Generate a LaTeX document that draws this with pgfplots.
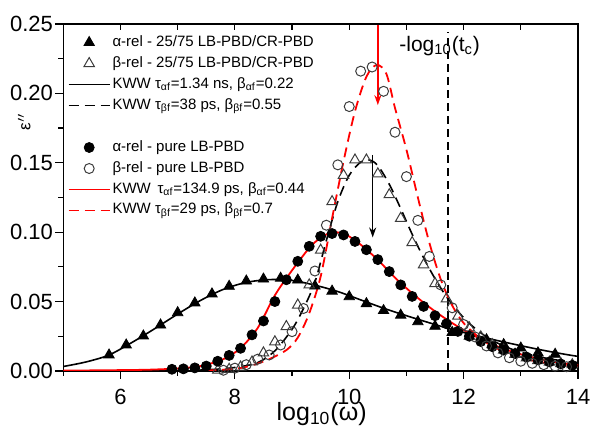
\documentclass[border=0pt]{standalone}
\usepackage{pgfplots}
\pgfplotsset{compat=1.18}
\usepackage{fontspec}
\setmainfont{Liberation Sans}
\usetikzlibrary{arrows.meta}
\definecolor{mkgray}{HTML}{3C3C3C}

\begin{document}
\begin{tikzpicture}
\begin{axis}[
  name=ax,
  scale only axis, width=257.4pt, height=173.5pt,
  xmin=5, xmax=14, ymin=0, ymax=0.25,
  xtick={6,8,10,12,14}, minor xtick={5,7,9,11,13},
  ytick={0,0.05,0.1,0.15,0.2,0.25},
  minor ytick={0.025,0.075,0.125,0.175,0.225},
  xtick pos=bottom, ytick pos=left,
  tick align=outside,
  major tick length=4pt, minor tick length=2.5pt,
  tick style={black, line width=0.6pt},
  axis line style={line width=0.7pt},
  /pgf/number format/assume math mode=true,
  ticklabel style={font=\fontsize{11}{13}\selectfont},
  yticklabel style={inner xsep=1pt, /pgf/number format/.cd, fixed, fixed zerofill, precision=2},
  xticklabel style={anchor=base, inner sep=0pt, yshift=-13pt},
  legend image code/.code={\draw[mark repeat=2,mark phase=2,#1] plot coordinates {(0cm,0cm) (0.36cm,0cm) (0.72cm,0cm)};},
  legend cell align=left,
  legend style={at={(0.008,0.978)}, anchor=north west, draw=none, fill=none,
    font=\fontsize{7.5}{9}\selectfont, inner sep=0pt, row sep=0pt,
    nodes={inner sep=1pt, text height=6pt, text depth=2.5pt}},
]
% alpha 25/75
\addplot[only marks, mark=triangle*, mark size=3pt, mark options={fill=black, draw=black}] coordinates {
(5.8,0.0115)(6.1,0.0187)(6.4,0.0252)(6.7,0.0331)(7.0,0.042)(7.3,0.049)(7.6,0.0555)(7.9,0.061)
(8.2,0.0648)(8.5,0.0662)(8.8,0.0668)(9.1,0.0655)(9.4,0.0612)(9.7,0.0575)(10.0,0.0535)(10.3,0.0485)
(10.6,0.0435)(10.9,0.0402)(11.2,0.0355)(11.5,0.0322)(11.8,0.0278)(12.1,0.025)(12.4,0.0225)
(12.7,0.019)(13.0,0.0165)(13.3,0.013)(13.6,0.012)};
\addlegendentry{α-rel - 25/75 LB-PBD/CR-PBD}
% beta 25/75
\addplot[only marks, mark=triangle, mark size=3pt, mark options={draw=mkgray, line width=0.5pt}] coordinates {
(7.7,0.0005)(7.9,0.0012)(8.1,0.0028)(8.3,0.0065)(8.5,0.013)(8.7,0.021)(8.9,0.032)(9.1,0.0475)
(9.3,0.062)(9.5,0.087)(9.7,0.122)(9.9,0.141)(10.1,0.152)(10.3,0.152)(10.5,0.142)(10.7,0.127)
(10.9,0.11)(11.1,0.0925)(11.3,0.0765)(11.5,0.063)(11.7,0.052)(11.9,0.0395)(12.1,0.031)
(12.3,0.0245)(12.5,0.019)(12.7,0.015)(12.9,0.012)(13.1,0.0095)(13.3,0.0075)(13.5,0.0063)
(13.7,0.0053)(13.9,0.0045)};
\addlegendentry{β-rel - 25/75 LB-PBD/CR-PBD}
% KWW alpha 25/75
\addplot[black, line width=0.8pt, smooth] coordinates {
(5.0,0.0032)(5.4,0.0065)(5.8,0.0115)(6.2,0.0205)(6.6,0.0305)(7.0,0.041)(7.4,0.0508)(7.8,0.0588)
(8.2,0.0638)(8.6,0.0658)(9.0,0.0652)(9.4,0.0618)(9.8,0.0572)(10.2,0.0512)(10.6,0.0452)(11.0,0.0398)
(11.4,0.0347)(11.8,0.0298)(12.2,0.0257)(12.6,0.0218)(13.0,0.0182)(13.4,0.0148)(13.8,0.0118)(14.0,0.0105)};
\addlegendentry{KWW τ\textsubscript{αf}=1.34 ns, β\textsubscript{αf}=0.22}
% KWW beta 25/75
\addplot[black, line width=0.8pt, dash pattern=on 5pt off 3pt, smooth] coordinates {
(7.0,0.0003)(7.5,0.0008)(8.0,0.0025)(8.4,0.006)(8.7,0.0145)(9.0,0.03)(9.2,0.045)(9.4,0.064)
(9.6,0.094)(9.8,0.122)(10.0,0.141)(10.2,0.1505)(10.35,0.152)(10.5,0.148)(10.7,0.1345)(10.9,0.117)
(11.1,0.0985)(11.3,0.0815)(11.5,0.0665)(11.7,0.0535)(11.9,0.043)(12.1,0.0342)(12.4,0.0245)(12.7,0.018)
(13.0,0.0135)(13.4,0.0095)(13.8,0.0068)(14.0,0.006)};
\addlegendentry{KWW τ\textsubscript{βf}=38 ps, β\textsubscript{βf}=0.55}
\addlegendimage{empty legend}
\addlegendentry{}
% alpha pure
\addplot[only marks, mark=*, mark size=2.5pt, mark options={fill=black, draw=black}] coordinates {
(6.9,0.0012)(7.1,0.0015)(7.3,0.0022)(7.5,0.0035)(7.7,0.007)(7.9,0.0112)(8.1,0.0163)(8.3,0.026)
(8.5,0.036)(8.7,0.050)(8.9,0.0657)(9.1,0.079)(9.3,0.0898)(9.5,0.097)(9.7,0.099)(9.9,0.098)
(10.1,0.0933)(10.3,0.0873)(10.5,0.0802)(10.7,0.0716)(10.9,0.062)(11.1,0.0537)(11.3,0.0465)
(11.5,0.0398)(11.7,0.034)(11.9,0.0285)(12.1,0.025)(12.3,0.0212)(12.5,0.0175)(12.7,0.015)
(12.9,0.0125)(13.1,0.010)(13.3,0.008)(13.5,0.0065)(13.7,0.005)(13.9,0.004)};
\addlegendentry{α-rel - pure LB-PBD}
% beta pure
\addplot[only marks, mark=o, mark size=2.5pt, mark options={draw=mkgray, line width=0.5pt}] coordinates {
(7.8,0.0005)(8.0,0.002)(8.2,0.0045)(8.4,0.0085)(8.6,0.0115)(8.8,0.0187)(9.0,0.0283)(9.2,0.045)
(9.4,0.072)(9.6,0.105)(9.8,0.1485)(10.0,0.1905)(10.2,0.216)(10.4,0.219)(10.6,0.2015)(10.8,0.172)
(11.0,0.14)(11.2,0.1085)(11.4,0.0825)(11.6,0.062)(11.8,0.0455)(12.0,0.0335)(12.2,0.0245)
(12.4,0.018)(12.6,0.013)(12.8,0.0095)(13.0,0.007)(13.2,0.0055)(13.4,0.0045)(13.6,0.0035)(13.8,0.003)};
\addlegendentry{β-rel - pure LB-PBD}
% KWW alpha pure
\addplot[red, line width=0.9pt, smooth] coordinates {
(5.0,0.0003)(5.5,0.0004)(6.0,0.0006)(6.5,0.0009)(7.0,0.0018)(7.4,0.0035)(7.8,0.0085)(8.1,0.0165)
(8.4,0.031)(8.7,0.0545)(9.0,0.0725)(9.3,0.0885)(9.5,0.096)(9.72,0.1)(9.95,0.098)(10.2,0.091)
(10.5,0.08)(10.8,0.0672)(11.1,0.056)(11.4,0.046)(11.7,0.0372)(12.0,0.0295)(12.3,0.023)(12.6,0.0175)
(12.9,0.0132)(13.2,0.0098)(13.5,0.0072)(13.8,0.0052)(14.0,0.0042)};
\addlegendentry{KWW \,τ\textsubscript{αf}=134.9 ps, β\textsubscript{αf}=0.44}
% KWW beta pure
\addplot[red, line width=0.9pt, dash pattern=on 5pt off 3pt, smooth] coordinates {
(7.5,0.0003)(8.0,0.0015)(8.3,0.004)(8.6,0.0085)(8.9,0.015)(9.1,0.024)(9.3,0.0415)(9.5,0.068)
(9.7,0.11)(9.9,0.151)(10.1,0.187)(10.3,0.212)(10.48,0.2205)(10.65,0.214)(10.8,0.1895)(11.0,0.1595)
(11.2,0.125)(11.4,0.0925)(11.6,0.066)(11.8,0.0472)(12.0,0.0345)(12.3,0.0232)(12.6,0.0158)(13.0,0.0095)
(13.4,0.006)(13.8,0.004)(14.0,0.0035)};
\addlegendentry{KWW τ\textsubscript{βf}=29 ps, β\textsubscript{βf}=0.7}
% annotations
\addplot[black, line width=0.9pt, dash pattern=on 4pt off 2.5pt, forget plot] coordinates {(11.72,0) (11.72,0.244)};
\addplot[red, line width=0.7pt, -{Stealth[length=5pt,width=3.5pt]}, forget plot] coordinates {(10.5,0.25) (10.5,0.1916)};
\addplot[black, line width=0.7pt, -{Stealth[length=5pt,width=3.5pt]}, forget plot] coordinates {(10.41,0.1556) (10.41,0.0962)};
\node[anchor=base west, inner sep=0pt, font=\fontsize{10.5}{12}\selectfont] at (axis cs:10.87,0.2305) {-log\textsubscript{10}(t\textsubscript{c})};
\end{axis}
\begin{axis}[
  scale only axis, width=257.4pt, height=173.5pt,
  at={(ax.south west)}, anchor=south west,
  xmin=5, xmax=14, ymin=0, ymax=0.25,
  axis x line*=top, axis y line=none,
  tick align=inside, xtick={6,...,13}, xticklabels={}, minor xtick={},
  major tick length=3pt,
  tick style={black, line width=0.6pt},
  axis line style={line width=0.7pt},
]
\addplot[draw=none] coordinates {(5,0)};
\end{axis}
% axis titles
\node[anchor=base, inner sep=0pt, font=\fontsize{12.5}{15}\selectfont] at ([xshift=129.2pt, yshift=-25pt]ax.south west) {log\textsubscript{10}(ω)};
\node[rotate=90, anchor=south, inner sep=1pt, font=\fontsize{8.5}{10}\selectfont] at ([xshift=-15.2pt, yshift=124.6pt]ax.south west) {ε$''$};
\pgfresetboundingbox
\path[use as bounding box] ([xshift=-31.65pt,yshift=-28.5pt]ax.south west) rectangle ([xshift=7pt,yshift=12pt]ax.north east);
\end{tikzpicture}
\end{document}
